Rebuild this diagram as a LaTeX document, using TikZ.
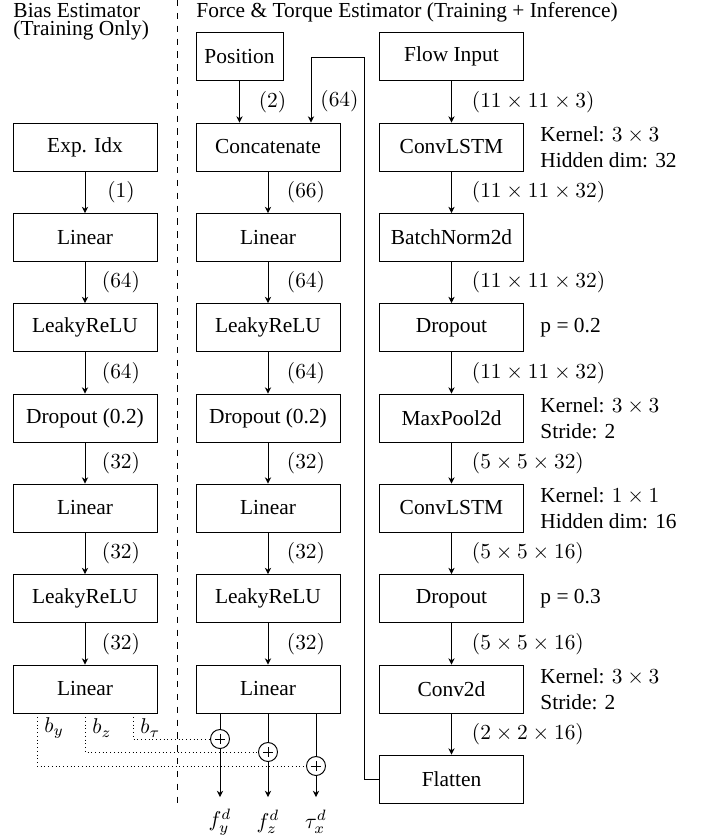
\documentclass[tikz,border=0pt]{standalone}
\usepackage{fontspec}
\setmainfont{Liberation Serif}
\usetikzlibrary{calc,arrows.meta}
\newcommand\pxu{0.467pt}
\begin{document}
\begin{tikzpicture}[x=0.467pt, y=-0.467pt, line width=0.45pt,
  >={Stealth[length=2.9pt,width=2.9pt,inset=0.9pt]},
  blk/.style={draw, minimum width=144*\pxu, minimum height=48*\pxu, inner sep=1pt},
  conn/.style={->},
  lbl/.style={inner sep=0pt},
  note/.style={anchor=west, align=left, inner sep=0pt},
  ttl/.style={anchor=base west, inner sep=0pt},
  dots/.style={dash pattern=on 0.45pt off 1.3pt},
  sum/.style={circle, draw, minimum size=19*\pxu, inner sep=0pt,
    path picture={
      \draw ([yshift=-2pt]path picture bounding box.north) -- ([yshift=2pt]path picture bounding box.south);
      \draw ([xshift=2pt]path picture bounding box.west) -- ([xshift=-2pt]path picture bounding box.east);}}]
\useasboundingbox (0,0) rectangle (702,839);

% titles and divider
\node[ttl] (t1) at (13,17) {Bias Estimator};
\node[ttl] (t2) at (13,35.5) {(Training Only)};
\node[ttl] (t3) at (196,17) {Force \& Torque Estimator (Training + Inference)};
\coordinate (dv1) at (177,0);
\coordinate (dv2) at (177,803);
\draw[dashed] (dv1) -- (dv2);

% left column
\node[blk] (L1) at (85,147) {Exp. Idx};
\node[blk] (L2) at (85,237.5) {Linear};
\node[blk] (L3) at (85,327.5) {LeakyReLU};
\node[blk] (L4) at (85,418) {Dropout (0.2)};
\node[blk] (L5) at (85,508) {Linear};
\node[blk] (L6) at (85,598.5) {LeakyReLU};
\node[blk] (L7) at (85,689) {Linear};
\foreach \a/\b/\t in {L1/L2/(1), L2/L3/(64), L3/L4/(64), L4/L5/(32), L5/L6/(32), L6/L7/(32)}
  \draw[conn] (\a) -- (\b) node[midway, xshift=36*\pxu, lbl] {$\t$};

% middle column
\node[blk, minimum width=87*\pxu] (P) at (239.5,56.5) {Position};
\node[blk] (M1) at (268,147) {Concatenate};
\node[blk] (M2) at (268,237.5) {Linear};
\node[blk] (M3) at (268,327.5) {LeakyReLU};
\node[blk] (M4) at (268,418) {Dropout (0.2)};
\node[blk] (M5) at (268,508) {Linear};
\node[blk] (M6) at (268,598.5) {LeakyReLU};
\node[blk] (M7) at (268,689) {Linear};
\foreach \a/\b/\t in {M1/M2/(66), M2/M3/(64), M3/M4/(64), M4/M5/(32), M5/M6/(32), M6/M7/(32)}
  \draw[conn] (\a) -- (\b) node[midway, xshift=38*\pxu, lbl] {$\t$};
\draw[conn] (P.south) -- (P.south |- M1.north) node[midway, xshift=33*\pxu, lbl] {$(2)$};

% right column
\node[blk] (R0) at (451.5,56.5) {Flow Input};
\node[blk] (R1) at (451.5,147) {ConvLSTM};
\node[blk] (R2) at (451.5,237.5) {BatchNorm2d};
\node[blk] (R3) at (451.5,327.5) {Dropout};
\node[blk] (R4) at (451.5,418) {MaxPool2d};
\node[blk] (R5) at (451.5,508) {ConvLSTM};
\node[blk] (R6) at (451.5,598.5) {Dropout};
\node[blk] (R7) at (451.5,689) {Conv2d};
\node[blk] (R8) at (451.5,779) {Flatten};
\foreach \a/\b/\t in {R0/R1/(11\times11\times3), R1/R2/(11\times11\times32), R2/R3/(11\times11\times32),
    R3/R4/(11\times11\times32), R4/R5/(5\times5\times32), R5/R6/(5\times5\times16),
    R6/R7/(5\times5\times16), R7/R8/(2\times2\times16)}
  \draw[conn] (\a) -- (\b) node[midway, xshift=20*\pxu, anchor=west, lbl] {$\t$};

% annotations
\node[note] (n1) at (540,147) {Kernel: $3\times3$\\Hidden dim: 32};
\node[note] (n3) at (540,327.5) {p = 0.2};
\node[note] (n4) at (540,418) {Kernel: $3\times3$\\Stride: 2};
\node[note] (n5) at (540,508) {Kernel: $1\times1$\\Hidden dim: 16};
\node[note] (n6) at (540,598.5) {p = 0.3};
\node[note] (n7) at (540,689) {Kernel: $3\times3$\\Stride: 2};

% loop from Flatten to Concatenate
\coordinate (lpA) at (364,57);
\coordinate (lpB) at (311,57);
\draw[conn] (R8.west) -| (lpA) -- (lpB) -- (lpB |- M1.north);
\node[lbl, anchor=west] (l64) at (320,101) {$(64)$};

% sums and outputs
\node[sum] (S1) at (220,739) {};
\node[sum] (S2) at (268,752) {};
\node[sum] (S3) at (316,766) {};
\draw (S1 |- M7.south) -- (S1.north);
\draw (S2 |- M7.south) -- (S2.north);
\draw (S3 |- M7.south) -- (S3.north);
\coordinate (E1) at (220,797);
\coordinate (E2) at (268,797);
\coordinate (E3) at (316,797);
\draw[conn] (S1) -- (E1);
\draw[conn] (S2) -- (E2);
\draw[conn] (S3) -- (E3);
\node[lbl] (O1) at (220,822) {$f_y^d$};
\node[lbl] (O2) at (268,822) {$f_z^d$};
\node[lbl] (O3) at (316,822) {$\tau_x^d$};

% bias lines
\draw[dots] ($(L7.south)+(48,0)$) |- (S1.west);
\draw[dots] (L7.south) |- (S2.west);
\draw[dots] ($(L7.south)+(-48,0)$) |- (S3.west);
\node[lbl, anchor=west] (by) at (44,728) {$b_y$};
\node[lbl, anchor=west] (bz) at (92,728) {$b_z$};
\node[lbl, anchor=west] (bt) at (140,728) {$b_\tau$};
\end{tikzpicture}
\end{document}
